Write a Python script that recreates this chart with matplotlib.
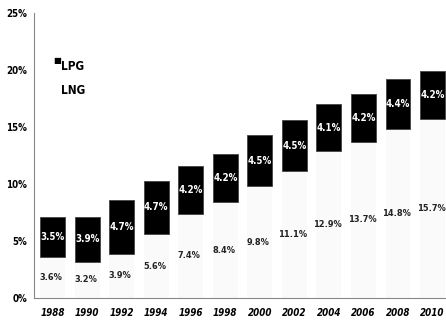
import matplotlib
matplotlib.use("Agg")
import matplotlib.pyplot as plt
import numpy as np

years = ["1988", "1990", "1992", "1994", "1996", "1998", "2000", "2002", "2004", "2006", "2008", "2010"]
lng = [3.6, 3.2, 3.9, 5.6, 7.4, 8.4, 9.8, 11.1, 12.9, 13.7, 14.8, 15.7]
lpg = [3.5, 3.9, 4.7, 4.7, 4.2, 4.2, 4.5, 4.5, 4.1, 4.2, 4.4, 4.2]
yticks = [0, 5, 10, 15, 20, 25]

plt.rcParams['hatch.color'] = '#cfcfcf'
plt.rcParams['hatch.linewidth'] = 0.6
fam = ["DejaVu Sans"]
st = "condensed"

fig = plt.figure(figsize=(4.46, 3.28), dpi=100)
ax = fig.add_axes([34/446, 30/328, 412/446, 285/328])
x = np.arange(len(years))
w = 0.72
ax.bar(x, lng, width=w, color="#fafafa", edgecolor="none", hatch="...", linewidth=0)
ax.bar(x, lpg, bottom=lng, width=w, color="black", edgecolor="#444444", linewidth=0.6)

for i in range(len(years)):
    ax.text(x[i] - 0.04, lng[i] / 2, f"{lng[i]:.1f}%", ha="center", va="center",
            fontsize=6.6, fontweight="bold", color="#222222", family=fam, fontstretch=st)
    ax.text(x[i], lng[i] + lpg[i] / 2, f"{lpg[i]:.1f}%", ha="center", va="center",
            fontsize=7, fontweight="bold", color="white", family=fam, fontstretch=st)

ax.set_xlim(-0.54, len(years) - 1 + 0.39)
ax.set_ylim(0, 25)
ax.set_yticks(yticks)
ax.set_yticklabels([f"{t}%" for t in yticks], family=fam, fontsize=7, fontweight="bold", fontstretch=st)
ax.set_xticks(x)
ax.set_xticklabels(years, family=fam, fontsize=7, fontweight="bold", style="italic", fontstretch=st)
ax.tick_params(axis="both", length=0, pad=7)
ax.tick_params(axis="y", pad=5)
for s in ["top", "right"]:
    ax.spines[s].set_visible(False)
for s in ["left", "bottom"]:
    ax.spines[s].set_linestyle((0, (1, 1)))
    ax.spines[s].set_color("#888888")
    ax.spines[s].set_linewidth(0.8)

# legend
fig.text(53/446, 1 - 60/328, "\u25a0", fontsize=6, color="black", va="center", ha="left")
fig.text(61/446, 1 - 66/328, "LPG", fontsize=8.5, fontweight="bold", family=fam, fontstretch=st, va="center", ha="left")
fig.text(61/446, 1 - 90/328, "LNG", fontsize=8.5, fontweight="bold", family=fam, fontstretch=st, va="center", ha="left")

fig.savefig("out.png", dpi=100)
